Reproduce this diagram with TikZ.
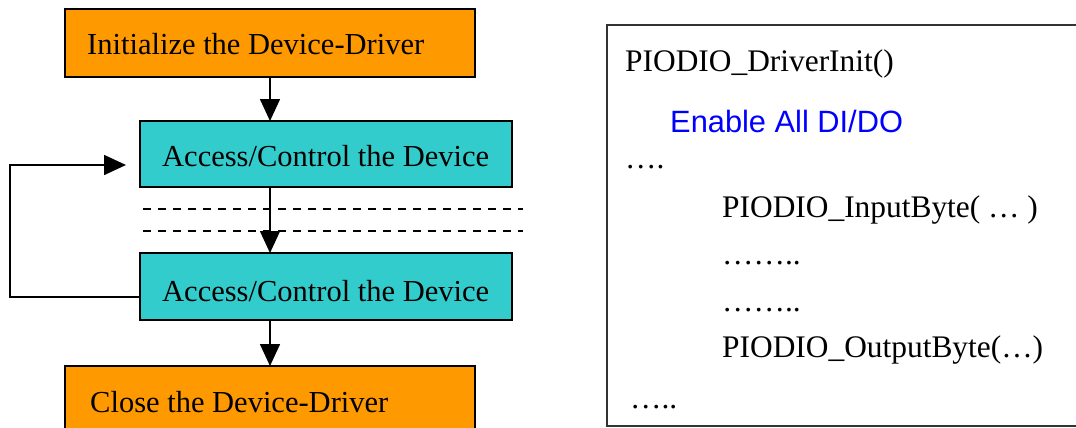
\documentclass[tikz,border=0pt]{standalone}
\usepackage{fontspec}
\setmainfont{Liberation Serif}
\newfontfamily\codesans{Liberation Sans}
\usetikzlibrary{arrows.meta}
\definecolor{stepamber}{HTML}{FF9900}
\definecolor{stepteal}{HTML}{33CCCC}
\definecolor{codeblue}{HTML}{0000FF}
\begin{document}
\begin{tikzpicture}[x=1pt,y=-1pt,
  flowbox/.style={draw=black, line width=1.6pt, inner sep=0pt, outer sep=0pt},
  flow/.style={line width=1.6pt, draw=black, -{Triangle[length=22pt,width=20pt]}},
  sepline/.style={line width=1.6pt, dash pattern=on 8pt off 7pt},
  steptext/.style={anchor=base west, inner sep=0pt, font=\fontsize{30.5pt}{36pt}\selectfont},
  codetext/.style={anchor=base west, inner sep=0pt, font=\fontsize{31.4pt}{36pt}\selectfont}]
\useasboundingbox (0,0) rectangle (1076,428);
\clip (0,0) rectangle (1076,428);
\fill[white] (0,0) rectangle (1076,428);

% flow chart boxes
\node[flowbox, fill=stepamber, minimum width=410pt, minimum height=68pt] (init) at (270,43) {};
\node[flowbox, fill=stepteal, minimum width=372pt, minimum height=66pt] (acc1) at (326,154) {};
\node[flowbox, fill=stepteal, minimum width=372pt, minimum height=67pt] (acc2) at (326,286.5) {};
\node[flowbox, fill=stepamber, minimum width=410pt, minimum height=68pt] (close) at (270,400) {};

\node[steptext] (tinit) at (87,55) {Initialize the Device-Driver};
\node[steptext] (tacc1) at (162,166) {Access/Control the Device};
\node[steptext] (tacc2) at (162,301) {Access/Control the Device};
\node[steptext] (tclose) at (90,412) {Close the Device-Driver};

% omitted steps between the two access boxes
\draw[sepline] (143,209) -- (523,209);
\draw[sepline] (143,231) -- (523,231);

% connectors
\draw[flow] (init.south) -- (init.south |- acc1.north);
\draw[flow] (init.south |- acc1.south) -- (init.south |- acc2.north);
\draw[flow] (init.south |- acc2.south) -- (close.north);
\coordinate (loopout) at (140,297);
\coordinate (loopin) at (126,165);
\draw[flow] (loopout) -- ++(-130,0) |- (loopin);

% code listing
\node[draw=black!80, line width=1.6pt, inner sep=0pt, minimum width=490pt, minimum height=401pt] (code) at (852,225.5) {};
\node[codetext] (c1) at (625,72) {PIODIO\_DriverInit()};
\node[codetext, font=\codesans\fontsize{30.8pt}{36pt}\selectfont, text=codeblue] (c2) at (670,132) {Enable All DI/DO};
\node[codetext] (c3) at (625,168) {….};
\node[codetext] (c4) at (722,217) {PIODIO\_InputByte( … )};
\node[codetext] (c5) at (722,264) {……..};
\node[codetext] (c6) at (722,311) {……..};
\node[codetext] (c7) at (722,357) {PIODIO\_OutputByte(…)};
\node[codetext] (c8) at (630,408) {…..};
\end{tikzpicture}
\end{document}
